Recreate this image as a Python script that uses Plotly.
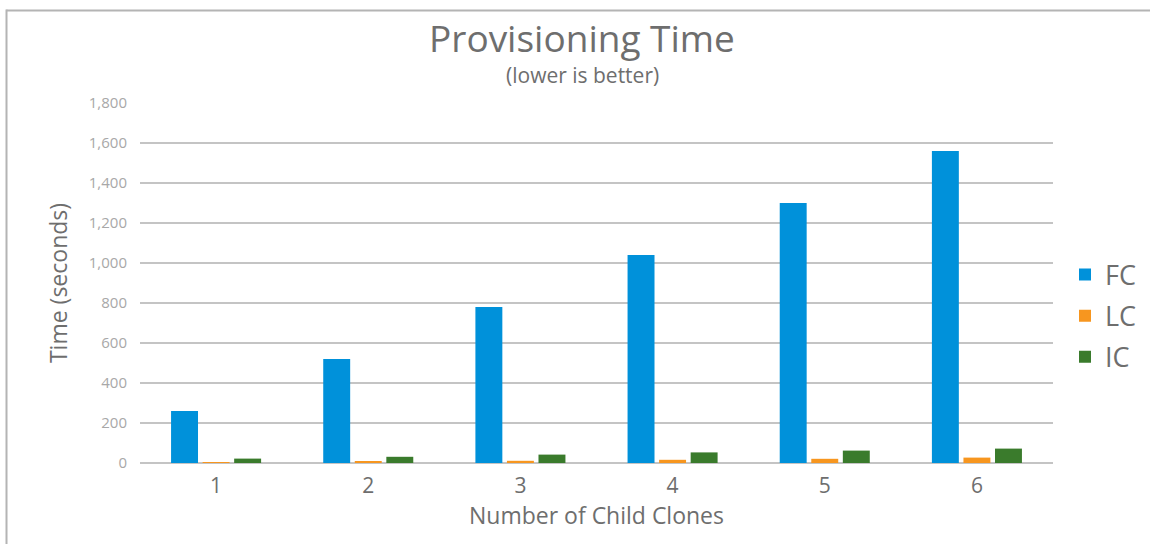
import plotly.graph_objects as go

# Provisioning time per number of child clones
clones = ["1", "2", "3", "4", "5", "6"]
fc_time = [260, 520, 780, 1040, 1300, 1560]
lc_time = [2, 7, 11, 16, 21, 27]
ic_time = [22, 31, 42, 53, 62, 72]
y_ticks = [0, 200, 400, 600, 800, 1000, 1200, 1400, 1600, 1800]
y_tick_text = ["0", "200", "400", "600", "800", "1,000", "1,200", "1,400", "1,600", "1,800"]

FONT = "'Open Sans', Lato, sans-serif"
W, H = 1150, 544
ML, MR, MT, MB = 140, 97, 103, 81
PW, PH = W - ML - MR, H - MT - MB


def px_x(px):
    return (px - ML) / PW


def px_y(py):
    return (H - MB - py) / PH


fig = go.Figure()
series = [("FC", fc_time, "#0091DA"), ("LC", lc_time, "#F7961F"), ("IC", ic_time, "#3A7B2C")]
for name, vals, col in series:
    fig.add_trace(go.Bar(
        x=clones, y=vals, name=name, legendgroup=name,
        marker=dict(color=col, line=dict(width=0)),
    ))

fig.update_layout(
    width=W, height=H,
    margin=dict(l=ML, r=MR, t=MT, b=MB, autoexpand=False),
    paper_bgcolor="white", plot_bgcolor="white",
    barmode="group", bargap=0.378, bargroupgap=0.146,
    font=dict(family=FONT, color="#6e6e6e"),
    showlegend=True,
    legend=dict(
        xref="container", yref="container",
        x=1065 / W, xanchor="left", y=1 - 316 / H, yanchor="middle",
        font=dict(size=27, color="#6e6e6e", family=FONT),
        tracegroupgap=3, itemsizing="constant",
        bgcolor="rgba(0,0,0,0)",
    ),
    xaxis=dict(
        showgrid=False, showline=False, ticks="",
        tickfont=dict(size=21, color="#6e6e6e", family=FONT),
        ticklabelstandoff=8,
        title=dict(text="Number of Child Clones", font=dict(size=23, color="#6e6e6e", family=FONT), standoff=2),
    ),
    yaxis=dict(
        range=[0, 1800], tickvals=y_ticks, ticktext=y_tick_text,
        showgrid=True, gridcolor="#c4c4c4", gridwidth=1.5,
        zeroline=True, zerolinecolor="#c4c4c4", zerolinewidth=1.5,
        showline=False, ticks="",
        tickfont=dict(size=15, color="#a8a8a8", family=FONT),
        ticklabelstandoff=12,
        title=dict(text="Time (seconds)", font=dict(size=23, color="#6e6e6e", family=FONT), standoff=14),
    ),
    annotations=[
        dict(text="Provisioning Time", x=px_x(582), y=px_y(38), xref="paper", yref="paper",
             xanchor="center", yanchor="middle",
             showarrow=False, font=dict(size=37, color="#6e6e6e", family=FONT)),
        dict(text="(lower is better)", x=px_x(582), y=px_y(75), xref="paper", yref="paper",
             xanchor="center", yanchor="middle",
             showarrow=False, font=dict(size=21, color="#6e6e6e", family=FONT)),
    ],
    shapes=[
        dict(type="line", xref="paper", yref="paper",
             x0=px_x(6.5), x1=px_x(6.5), y0=px_y(9.5), y1=px_y(560),
             line=dict(color="#b4b4b4", width=2)),
        dict(type="line", xref="paper", yref="paper",
             x0=px_x(6.5), x1=px_x(1160), y0=px_y(10.5), y1=px_y(10.5),
             line=dict(color="#b4b4b4", width=2)),
    ],
)

fig.write_html("out.html")
